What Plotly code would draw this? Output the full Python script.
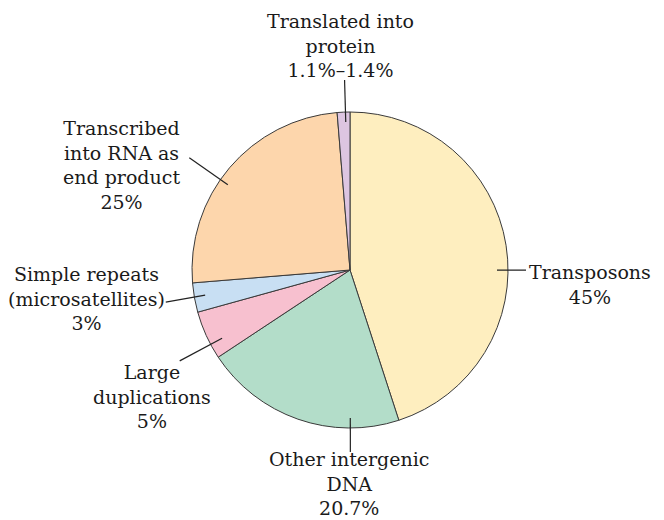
import math
import plotly.graph_objects as go

# ---- data ----
categories = ["Transposons", "Other intergenic DNA", "Large duplications",
              "Simple repeats (microsatellites)", "Transcribed into RNA as end product",
              "Translated into protein"]
values = [45, 20.7, 5, 3, 25, 1.3]
label_texts = ["Transposons<br>45%",
               "Other intergenic<br>DNA<br>20.7%",
               "Large<br>duplications<br>5%",
               "Simple repeats<br>(microsatellites)<br>3%",
               "Transcribed<br>into RNA as<br>end product<br>25%",
               "Translated into<br>protein<br>1.1%–1.4%"]
colors = ["#FEEEBF", "#B3DDC9", "#F7C0CF", "#C8DFF3", "#FDD6AC", "#DDC5E1"]

# ---- layout (pixels) ----
W, H = 664, 520
CX, CY, R = 350, 270, 158
# where each leader line meets its slice (fraction of slice), inner/outer radius
leader_frac = [0.556, 0.24, 0.30, 0.52, 0.44, 0.65]
leader_r = [(147, 176), (148, 182), (145, 193), (147, 187), (149, 196), (148, 190)]
text_pos = [(590, 284), (349, 483), (152, 396), (86, 298), (121, 165), (341, 45)]

fig = go.Figure(go.Pie(
    labels=categories, values=values, sort=False, direction="clockwise",
    rotation=0, textinfo="none", hoverinfo="skip", showlegend=False,
    marker=dict(colors=colors, line=dict(color="#3a3a3a", width=1)),
    domain=dict(x=[(CX - R) / W, (CX + R) / W],
                y=[(H - CY - R) / H, (H - CY + R) / H]),
))

total = sum(values)
cum = 0.0
shapes, annotations = [], []
for v, frac, (r1, r2), (tx, ty), txt in zip(values, leader_frac, leader_r, text_pos, label_texts):
    a0 = cum / total * 360
    a1 = (cum + v) / total * 360
    cum += v
    th = math.radians(a0 + frac * (a1 - a0))
    x1, y1 = CX + r1 * math.sin(th), CY - r1 * math.cos(th)
    x2, y2 = CX + r2 * math.sin(th), CY - r2 * math.cos(th)
    shapes.append(dict(type="line", xref="paper", yref="paper", layer="above",
                       x0=x1 / W, y0=1 - y1 / H, x1=x2 / W, y1=1 - y2 / H,
                       line=dict(color="#222222", width=1.2)))
    annotations.append(dict(text=txt, xref="paper", yref="paper",
                            x=tx / W, y=1 - ty / H, xanchor="center", yanchor="middle",
                            showarrow=False, align="center",
                            font=dict(family="DejaVu Serif", size=19, color="#1a1a1a")))

fig.update_layout(width=W, height=H, margin=dict(l=0, r=0, t=0, b=0),
                  paper_bgcolor="white", plot_bgcolor="white",
                  shapes=shapes, annotations=annotations)
fig.write_html("out.html", config={"displayModeBar": False},
               post_script="document.body.style.margin='0';document.body.style.overflow='hidden';")
